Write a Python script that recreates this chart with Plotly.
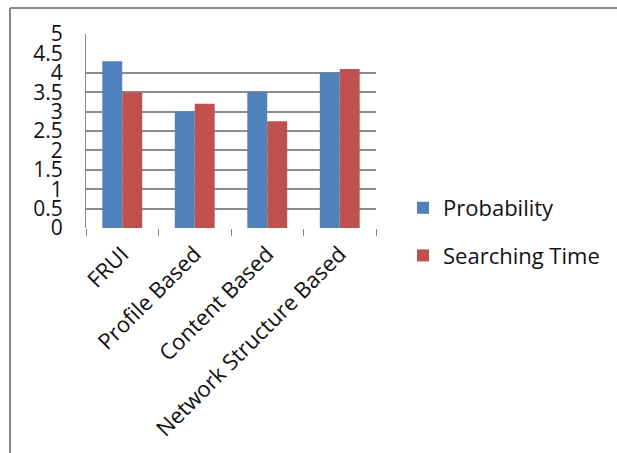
import plotly.graph_objects as go

categories = ["FRUI", "Profile Based", "Content Based", "Network Structure Based"]
probability = [4.3, 3.0, 3.5, 4.0]
searching_time = [3.5, 3.2, 2.75, 4.1]
y_ticks = [0, 0.5, 1, 1.5, 2, 2.5, 3, 3.5, 4, 4.5, 5]
grid_vals = [0.5, 1, 1.5, 2, 2.5, 3, 3.5, 4]

FONT = "Open Sans"
TXT = "#111111"
W, H = 617, 453
ML, MR, MT, MB = 86, 241, 34, 225
pw, ph = W - ML - MR, H - MT - MB

fig = go.Figure()
fig.add_trace(go.Bar(x=categories, y=probability, name="Probability",
                     marker=dict(color="#4F81BD", line=dict(width=0)),
                     legendgroup="a"))
fig.add_trace(go.Bar(x=categories, y=searching_time, name="Searching Time",
                     marker=dict(color="#C0504D", line=dict(width=0)),
                     legendgroup="b"))
# invisible trace on overlay axis to carry gridlines
fig.add_trace(go.Scatter(x=categories, y=[None]*4, yaxis="y2", showlegend=False,
                         hoverinfo="skip"))

# outer border (top and left)
x_left = (10 - ML) / pw
y_top = (H - MB - 8) / ph
y_bot = (H - MB - H) / ph
fig.add_shape(type="line", xref="paper", yref="paper", x0=x_left, x1=(W - ML) / pw,
              y0=y_top, y1=y_top, line=dict(color="#8a8a8a", width=2), layer="above")
fig.add_shape(type="line", xref="paper", yref="paper", x0=x_left, x1=x_left,
              y0=y_top, y1=y_bot, line=dict(color="#8a8a8a", width=2), layer="above")

fig.update_layout(
    width=W, height=H,
    margin=dict(l=ML, r=MR, t=MT, b=MB),
    paper_bgcolor="white", plot_bgcolor="white",
    barmode="group", bargap=0.45, bargroupgap=0,
    font=dict(family=FONT, color=TXT),
    xaxis=dict(
        type="category", tickangle=-45, tickson="boundaries",
        ticks="outside", ticklen=7, tickcolor="#8a8a8a", tickwidth=1,
        showline=False, showgrid=False, zeroline=False, ticklabelstandoff=8,
        tickfont=dict(size=22, family=FONT, color=TXT),
    ),
    yaxis=dict(
        range=[0, 5], tickvals=y_ticks, ticktext=[f"{v:g}" for v in y_ticks],
        showgrid=False, zeroline=False, showline=True, linecolor="#8a8a8a",
        linewidth=1, ticks="", ticklabelstandoff=18,
        tickfont=dict(size=21, family=FONT, color=TXT),
    ),
    yaxis2=dict(
        range=[0, 5], overlaying="y", tickvals=grid_vals, showticklabels=False,
        showgrid=True, gridcolor="#8c8c8c", gridwidth=1.5, zeroline=False,
        showline=False, ticks="", layer="below traces",
    ),
    legend=dict(
        x=(403 - ML) / pw, xanchor="left", y=(H - MB - 232) / ph, yanchor="middle",
        font=dict(size=22, family=FONT, color=TXT),
        tracegroupgap=16, bgcolor="rgba(0,0,0,0)",
    ),
    showlegend=True,
)

fig.write_html("out.html")
